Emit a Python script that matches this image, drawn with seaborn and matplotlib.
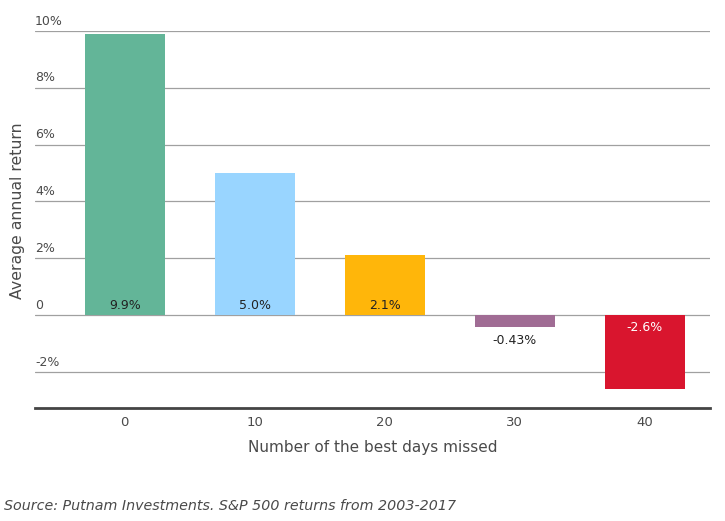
import matplotlib
matplotlib.use("Agg")
import matplotlib.pyplot as plt
import matplotlib.transforms as mtransforms
import pandas as pd
import seaborn as sns

# data
days_missed = ["0", "10", "20", "30", "40"]
avg_return = [9.9, 5.0, 2.1, -0.43, -2.6]
bar_labels = ["9.9%", "5.0%", "2.1%", "-0.43%", "-2.6%"]
bar_colors = ["#63b598", "#99d5ff", "#ffb60a", "#a06c94", "#d9152e"]
y_ticks = [-2, 0, 2, 4, 6, 8, 10]
y_tick_labels = ["-2%", "0", "2%", "4%", "6%", "8%", "10%"]

sns.set_style("white")
plt.rcParams["font.family"] = ["DejaVu Sans"]

df = pd.DataFrame({"days": days_missed, "ret": avg_return})

fig = plt.figure(figsize=(7.25, 5.21), dpi=100)
ax = fig.add_axes([0.0483, 0.2169, 0.9307, 0.7236])

sns.barplot(data=df, x="days", y="ret", hue="days", palette=bar_colors,
            width=0.615, legend=False, saturation=1, linewidth=0, ax=ax, zorder=3)

ax.set_xlim(-0.69, 4.5)
ax.set_ylim(-3.27, 10)

# gridlines with labels sitting above them
ax.set_yticks(y_ticks)
ax.set_yticklabels([])
ax.tick_params(axis="y", length=0)
for t in y_ticks:
    ax.axhline(t, color="#a0a0a0", lw=0.9, zorder=1)
trans = mtransforms.blended_transform_factory(ax.transAxes, ax.transData)
for t, lab in zip(y_ticks, y_tick_labels):
    ax.text(0.0, t + 0.12, lab, transform=trans, ha="left", va="bottom",
            fontsize=9, color="#4a4a4a")

# bar value labels
for i, (v, lab) in enumerate(zip(avg_return, bar_labels)):
    if v > 0:
        ax.text(i, 0.1, lab, ha="center", va="bottom", fontsize=9, color="#222222", zorder=4)
    elif v > -1:
        ax.text(i, v - 0.22, lab, ha="center", va="top", fontsize=9, color="#222222", zorder=4)
    else:
        ax.text(i, -0.22, lab, ha="center", va="top", fontsize=9, color="white", zorder=4)

for s in ["top", "right", "left"]:
    ax.spines[s].set_visible(False)
ax.spines["bottom"].set_color("#444444")
ax.spines["bottom"].set_linewidth(2)
ax.tick_params(axis="x", length=0, pad=6, labelsize=9.5, labelcolor="#4a4a4a")

ax.set_xlabel("Number of the best days missed", fontsize=11, color="#4a4a4a", labelpad=8)
ax.set_ylabel("Average annual return", fontsize=11.3, color="#4a4a4a")
ax.yaxis.set_label_coords(-0.015, 0.523)

fig.text(0.006, 0.015, "Source: Putnam Investments. S&P 500 returns from 2003-2017",
         fontsize=10.3, style="italic", color="#4a4a4a", ha="left", va="bottom")

fig.savefig("out.png", dpi=100)
